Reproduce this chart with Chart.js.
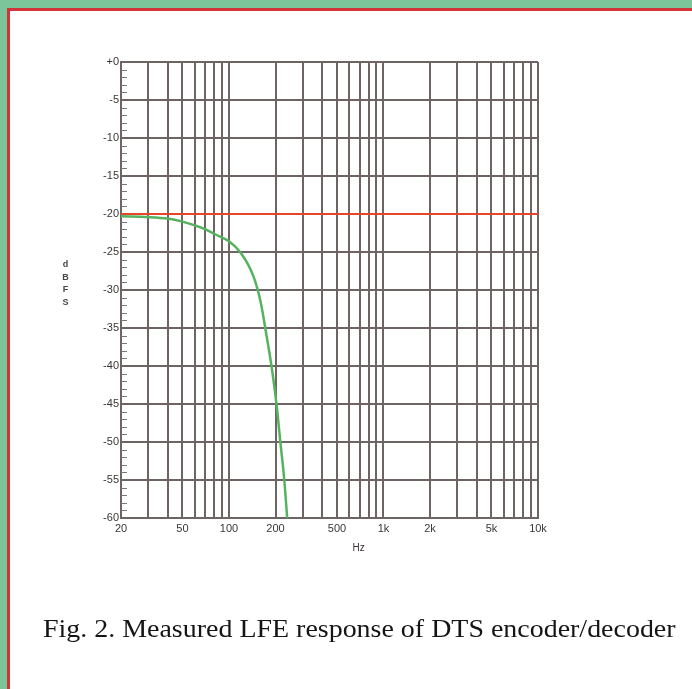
<!DOCTYPE html>
<html>
<head>
<meta charset="utf-8">
<script src="https://cdn.jsdelivr.net/npm/chart.js@4.4.1/dist/chart.umd.min.js"></script>
<style>
    html, body { margin: 0; padding: 0; }
    body {
        width: 692px;
        height: 689px;
        position: relative;
        overflow: hidden;
        background: #ffffff;
        font-family: Arial, "Liberation Sans", sans-serif;
    }
    .frame-green {
        position: absolute; left: 0; top: 0; width: 692px; height: 689px;
        border-left: 7px solid #7cc59a; border-top: 8px solid #7cc59a;
        box-sizing: border-box;
    }
    .frame-red {
        position: absolute; left: 7px; top: 8px; width: 685px; height: 681px;
        border-left: 3px solid #d2343a; border-top: 3px solid #d2343a;
        box-sizing: border-box;
    }
    #chartBox { position: absolute; left: 0; top: 0; width: 692px; height: 689px; }
    .ylabel {
        position: absolute; left: 59px; top: 258px; width: 13px;
        font-size: 9px; font-weight: bold; color: #4a4545; text-align: center;
        line-height: 12.7px;
    }
    .caption {
        position: absolute; left: 43px; top: 616px;
        font-family: "Liberation Serif", "Times New Roman", serif;
        font-size: 26px; line-height: 26px; color: #151515; white-space: nowrap;
        transform: scaleX(1.075); transform-origin: 0 0;
    }
</style>
</head>
<body>
<div class="frame-green"></div>
<div class="frame-red"></div>
<div id="chartBox"><canvas id="lfeChart" width="692" height="689"></canvas></div>
<div class="ylabel">d<br>B<br>F<br>S</div>
<div class="caption">Fig. 2. Measured LFE response of DTS encoder/decoder</div>

<script>
// Frequency grid (Hz) and the labelled ones
const xGridValues = [20, 30, 40, 50, 60, 70, 80, 90, 100, 200, 300, 400, 500, 600, 700, 800, 900,
    1000, 2000, 3000, 4000, 5000, 6000, 7000, 8000, 9000, 10000];
const xTickLabels = { 20: '20', 50: '50', 100: '100', 200: '200', 500: '500',
    1000: '1k', 2000: '2k', 5000: '5k', 10000: '10k' };

const lfeFreq = [20, 30, 40, 50, 60, 70, 80, 100, 120, 144, 160, 175, 190, 204, 215, 228, 238];
const lfeLevel = [-20.3, -20.4, -20.6, -21.0, -21.5, -22.0, -22.6, -23.6, -25.2, -28.2, -31.5,
    -36.0, -40.5, -45.4, -50.0, -55.0, -60.0];

// Reference level line
const refFreq = [20, 10000];
const refLevel = [-20, -20];

const gridColor = '#6e6464';
const labelColor = '#3a3535';

// Small 1 dB ticks on the inside of the left axis, plus the "Hz" unit label
const axisExtras = {
    id: 'axisExtras',
    afterDatasetsDraw(chart) {
        const ctx = chart.ctx;
        const y = chart.scales.y;
        const x = chart.scales.x;
        const left = chart.chartArea.left;
        ctx.save();
        ctx.strokeStyle = '#7d7575';
        ctx.lineWidth = 1;
        for (let v = -59; v < 0; v++) {
            if (v % 5 === 0) continue;
            const py = Math.round(y.getPixelForValue(v)) + 0.5;
            ctx.beginPath();
            ctx.moveTo(left, py);
            ctx.lineTo(left + 6, py);
            ctx.stroke();
        }
        ctx.fillStyle = labelColor;
        ctx.font = '10px Arial';
        ctx.textAlign = 'center';
        ctx.textBaseline = 'middle';
        ctx.fillText('Hz', x.getPixelForValue(690), chart.chartArea.bottom + 30);
        ctx.restore();
    }
};

const toPoints = (xs, ys) => xs.map((x, i) => ({ x: x, y: ys[i] }));

new Chart(document.getElementById('lfeChart'), {
    type: 'line',
    data: {
        datasets: [
            {
                label: 'Reference',
                data: toPoints(refFreq, refLevel),
                borderColor: '#e5452a',
                borderWidth: 2,
                pointRadius: 0,
                order: 0
            },
            {
                label: 'LFE',
                data: toPoints(lfeFreq, lfeLevel),
                borderColor: '#55b35f',
                borderWidth: 2.5,
                pointRadius: 0,
                cubicInterpolationMode: 'monotone',
                order: 1
            }
        ]
    },
    options: {
        responsive: false,
        animation: false,
        layout: {
            padding: { left: 81, right: 154, top: 62, bottom: 141 }
        },
        plugins: {
            legend: { display: false },
            tooltip: { enabled: false }
        },
        scales: {
            x: {
                type: 'logarithmic',
                min: 20,
                max: 10000,
                afterBuildTicks: scale => {
                    scale.ticks = xGridValues.map(v => ({ value: v }));
                },
                afterFit: scale => { scale.height = 30; },
                grid: {
                    color: gridColor,
                    lineWidth: 2,
                    drawTicks: false
                },
                border: { color: gridColor, width: 2 },
                ticks: {
                    autoSkip: false,
                    maxRotation: 0,
                    padding: 4,
                    color: labelColor,
                    font: { size: 11, family: 'Arial' },
                    callback: value => xTickLabels[value] || ''
                }
            },
            y: {
                min: -60,
                max: 0,
                afterFit: scale => { scale.width = 40; },
                grid: {
                    color: gridColor,
                    lineWidth: 2,
                    drawTicks: false
                },
                border: { color: gridColor, width: 2 },
                ticks: {
                    stepSize: 5,
                    padding: 2,
                    color: labelColor,
                    font: { size: 11, family: 'Arial' },
                    callback: value => value === 0 ? '+0' : String(value)
                }
            }
        }
    },
    plugins: [axisExtras]
});
</script>
</body>
</html>
